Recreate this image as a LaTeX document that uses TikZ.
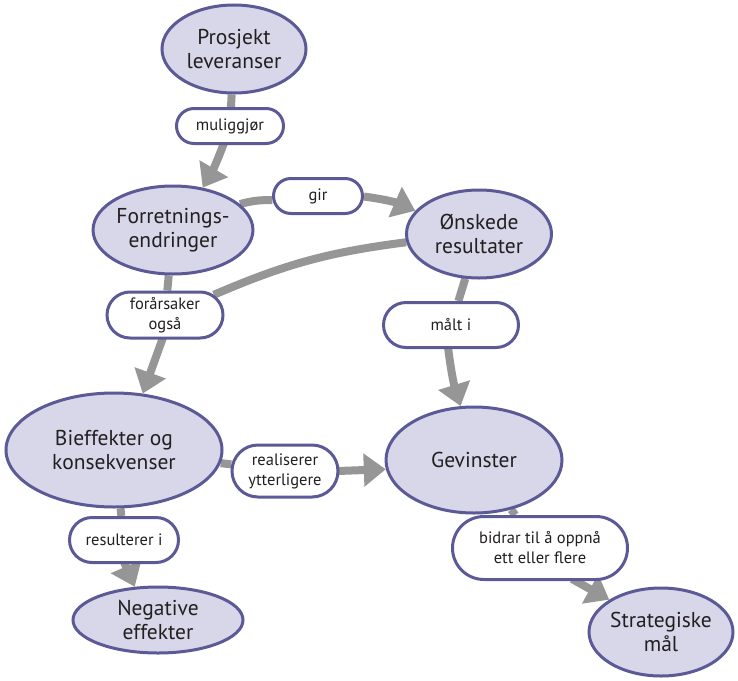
\documentclass[tikz,border=0pt]{standalone}
\usepackage{fontspec}
\setmainfont{PT Sans}
\usetikzlibrary{shapes.geometric,shapes.misc,arrows.meta,backgrounds,calc}
\definecolor{ellfill}{RGB}{215,215,233}
\definecolor{edgeblue}{RGB}{92,90,150}
\definecolor{conngray}{RGB}{150,150,150}
\definecolor{txt}{RGB}{35,31,32}
\tikzset{
  concept/.style={ellipse, draw=edgeblue, fill=ellfill, line width=3pt, inner sep=0pt,
    align=center, text=txt, font=\fontsize{21.5}{24}\selectfont},
  relbox/.style={rounded rectangle, draw=edgeblue, fill=white, line width=3pt, inner sep=0pt,
    align=center, text=txt, font=\fontsize{16.5}{20}\selectfont},
  conn/.style={draw=conngray, line width=8pt},
  connarrow/.style={conn, -{Triangle[length=22pt,width=32pt]}},
}
\begin{document}
\begin{tikzpicture}[x=1pt,y=-1pt]
\useasboundingbox (0,0) rectangle (738,680);
% concepts
\node[concept, minimum width=144pt, minimum height=88pt] (pro) at (234,49) {Prosjekt\\leveranser};
\node[concept, minimum width=144pt, minimum height=88pt] (for) at (173,230) {Forretnings-\\endringer};
\node[concept, minimum width=145pt, minimum height=88pt] (onk) at (479,234) {Ønskede\\resultater};
\node[concept, minimum width=216pt, minimum height=114pt] (bie) at (114,450) {Bieffekter og\\konsekvenser};
\node[concept, minimum width=176pt, minimum height=106pt] (gev) at (474,460) {Gevinster};
\node[concept, minimum width=170pt, minimum height=66pt] (neg) at (158,620) {Negative\\effekter};
\node[concept, minimum width=144pt, minimum height=88pt] (str) at (661,632) {Strategiske\\mål};
% relation labels
\node[relbox, minimum width=107pt, minimum height=35pt] (mul) at (230,126) {muliggjør};
\node[relbox, minimum width=89pt, minimum height=35pt] (gir) at (318,196) {gir};
\node[relbox, minimum width=116pt, minimum height=46pt] (foa) at (165,315) {forårsaker\\også};
\node[relbox, minimum width=135pt, minimum height=45pt] (mal) at (451,325) {målt i};
\node[relbox, minimum width=109pt, minimum height=45pt] (res) at (124,540) {resulterer i};
\node[relbox, minimum width=106pt, minimum height=52pt] (rea) at (285,471) {realiserer\\ytterligere};
\node[relbox, minimum width=175pt, minimum height=63pt] (bid) at (540,548) {bidrar til å oppnå\\ett eller flere};
% connectors
\begin{scope}[on background layer]
\draw[conn] (pro) -- (mul);
\draw[connarrow] ($(mul.south)+(-6,-2)$) to[bend left=5] (for.55);
\draw[conn] (for) to[bend left=8] (gir);
\draw[connarrow] (gir) to[bend left=8] (onk.160);
\draw[conn] (for) -- (foa);
\draw[conn] (onk) to[bend right=8] (foa);
\draw[connarrow] ($(foa.south)+(-2,-2)$) -- (bie.63);
\draw[conn] (onk) -- (mal);
\draw[connarrow] ($(mal.south)+(-3,-2)$) to[bend right=5] (gev.104);
\draw[conn] (bie) -- (rea);
\draw[connarrow] ($(rea.east)+(-2,0)$) -- (gev.186);
\draw[conn] (bie) -- (res);
\draw[connarrow] ($(res.south)+(0,-2)$) -- (neg.125);
\draw[conn] (gev) -- (bid);
\draw[connarrow] ($(bid.south)+(32,-2)$) -- (str.148);
\end{scope}
\end{tikzpicture}
\end{document}
